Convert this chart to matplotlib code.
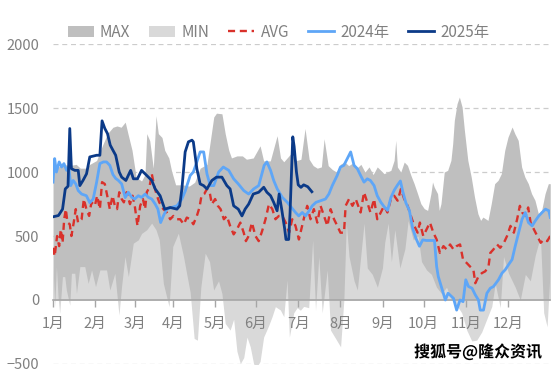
import matplotlib
matplotlib.use("Agg")
import matplotlib.pyplot as plt
import matplotlib.patheffects as pe
from matplotlib.patches import Patch
from matplotlib.lines import Line2D

plt.rcParams['font.family'] = ['Noto Sans CJK SC', 'DejaVu Sans']

# x values are day-of-year positions on the category axis
months = ['1月', '2月', '3月', '4月', '5月', '6月', '7月', '8月', '9月', '10月', '11月', '12月']
month_pos = [0, 31, 60, 88, 119, 149, 180, 211, 242, 272, 303, 334]

max_days = [0, 4, 8, 12, 17, 20, 24, 27, 32, 36, 40, 44, 47, 50, 53, 55, 58, 61, 65, 67.5, 68.8, 71, 73.6,
            75.6, 77.3, 80, 82, 85, 87, 90, 95, 100, 104, 108, 113, 118, 120, 124, 126.4, 129, 131, 135,
            139, 142, 147, 152, 154.6, 159.5, 164.5, 167, 169.4, 174.3, 179, 182, 185, 188, 191, 194, 197,
            199, 202, 205, 208, 211, 214, 217, 220, 223, 226, 229, 232, 235, 238, 240.6, 243, 245.5, 248,
            250.4, 251.6, 252.8, 255.3, 257.8, 260.2, 262.7, 265.1, 267.6, 270, 272.5, 275, 277.4, 278.6,
            279.8, 282.3, 283.5, 284.8, 287.2, 289.7, 292.1, 293.4, 294.6, 296.6, 298.3, 300.3, 302, 304.5,
            307, 309.4, 311.9, 313.9, 315.6, 319.3, 321.7, 324.2, 326.7, 329.1, 331.6, 334, 337, 339, 341.5,
            344, 346.4, 348.9, 351.3, 353.8, 356.3, 358.7, 361.2, 363.6, 365]
max_vals = [1050, 1040, 1060, 1050, 1060, 1030, 1030, 1060, 1090, 1200, 1300, 1350, 1360, 1350, 1390, 1300,
            1170, 960, 930, 980, 1300, 1245, 1030, 1440, 1300, 1270, 1170, 1110, 1010, 900, 900, 890, 920,
            1030, 1060, 1430, 1460, 1455, 1300, 1170, 1110, 1126, 1126, 1100, 1110, 1205, 1087, 1087, 1284,
            1110, 1080, 1140, 1090, 1100, 1340, 1100, 1050, 1030, 1040, 1260, 1050, 1020, 1000, 1060, 1080,
            1050, 1070, 1030, 1060, 1000, 1040, 980, 1040, 1013, 987, 1000, 1013, 1091, 1247, 1039, 1000,
            1078, 1052, 974, 909, 831, 753, 714, 700, 831, 922, 883, 831, 700, 753, 1000, 1013, 1091, 1221,
            1404, 1534, 1586, 1508, 1325, 1091, 961, 805, 674, 622, 648, 622, 753, 909, 935, 987, 1169, 1273,
            1352, 1300, 1247, 1039, 961, 909, 831, 779, 674, 700, 831, 909, 909]

min_days = [0, 1.25, 2.5, 3.7, 4.9, 6.9, 8.6, 9.8, 12.3, 13.5, 16, 17.2, 19.7, 23.3, 25.8, 28.3, 31.2, 34.4,
            39.3, 41.7, 45.4, 48.4, 50.3, 52.8, 55.3, 58.9, 62.6, 65, 68.8, 72.4, 75.6, 78, 81, 83.5, 85.2,
            87.9, 92, 95.8, 98.2, 100.7, 103.6, 106, 108.5, 111.7, 114.9, 117.9, 121.5, 124, 126.4, 130,
            132.6, 135, 137.5, 140, 142.4, 144.8, 147.3, 149.7, 152, 154.6, 158.3, 160.8, 163.2, 166.9,
            169.4, 171.8, 173.5, 176.7, 179.2, 181.6, 184, 187.7, 190.6, 192.7, 195.1, 197.6, 201.3, 203.7,
            207.4, 211.1, 213.5, 215.3, 217.3, 221, 223.4, 228.3, 230.7, 234.4, 238.1, 241.8, 243.5, 246,
            248.4, 250.9, 254.6, 258.3, 260.7, 264.4, 268, 270.5, 274.2, 277.8, 281.5, 285.2, 288.9, 292.6,
            296.3, 300, 303.7, 307.4, 311, 314.7, 318.4, 322.1, 324.6, 328.3, 330.7, 334.4, 339.3, 343,
            346.7, 350.4, 354, 357.8, 360.2, 362.7, 365]
min_vals = [261, -52, 261, 26, -105, 183, 183, 78, -40, 209, 209, 52, 261, 261, 130, 235, 105, 235, 235, 78,
            209, -118, 105, 340, 183, 444, 470, 520, 549, 601, 549, 470, 130, 20, -52, 418, 522, 340, 200,
            60, -300, -314, 100, 366, 300, 78, 150, 50, -183, -235, -150, -400, -497, -450, -290, -366,
            -500, -520, -480, -290, -200, -130, -52, -78, -130, 157, -290, -100, -60, -80, -50, -60, 470,
            -80, 340, -100, 235, -235, -300, -366, 0, 600, 340, 150, 78, 600, 250, 200, 100, 250, 450, 600,
            300, 550, 250, 400, 620, 470, 500, 300, 235, 200, 100, 50, 100, 0, -40, -100, -235, -320, -314,
            -250, -150, -50, 130, -60, 340, 209, 100, 0, 200, 150, 350, 496, -100, -209, 250]

avg_days = [0, 1.2, 3, 4.5, 5.7, 7, 8.2, 9.4, 10.6, 12.3, 13.5, 15.2, 16.7, 18.4, 21, 22.6, 24.5, 26.5, 28.2,
            30.7, 32.4, 34.4, 36, 38, 39.8, 41.7, 43.7, 45.4, 47, 48.6, 50.4, 52, 54, 56.5, 58.4, 60, 62, 64,
            66, 67.6, 68.8, 70.8, 72.5, 74.2, 76.3, 78, 81, 83.5, 86, 88.4, 91, 93.3, 96, 98.2, 100.7, 103,
            105.6, 107.5, 109, 111, 113, 115, 116.6, 119, 121, 123, 125.4, 127.6, 130, 132.6, 135, 137.5,
            140, 141.6, 143.6, 146, 148.6, 151, 153.5, 156, 158.5, 161, 163.3, 165.8, 168.3, 170.8, 173.3,
            175.6, 178, 180.5, 184, 186.6, 189, 191.5, 194, 196.4, 198.9, 201.4, 203.8, 206.3, 208.7, 211,
            213.6, 214.8, 217.3, 219.8, 222.2, 225.8, 228.3, 230.7, 233, 235.7, 238, 240.6, 243, 245.5, 248,
            250.4, 253, 255.4, 257.8, 260.3, 262.7, 265.2, 267.7, 269.3, 271.8, 274.2, 276.7, 279.2, 281.6,
            284, 286.6, 289, 291.5, 294, 296.3, 298.8, 301, 303.7, 306, 308.6, 310, 312.3, 314.8, 317.3,
            319.7, 321, 323.3, 326, 328.3, 331, 333.3, 335.8, 338.3, 340.7, 342.7, 344.4, 346.9, 348.8,
            350.6, 353, 355.5, 358, 360.4, 362.8, 365]
avg_vals = [408, 342, 500, 421, 552, 447, 631, 710, 605, 592, 500, 605, 710, 605, 631, 789, 710, 657, 763,
            736, 815, 710, 921, 907, 815, 710, 815, 736, 710, 842, 789, 763, 842, 749, 815, 736, 579, 736,
            789, 710, 842, 881, 986, 894, 815, 763, 710, 684, 631, 657, 631, 631, 592, 644, 631, 592, 657,
            723, 815, 828, 868, 842, 749, 789, 736, 710, 631, 657, 579, 513, 552, 605, 526, 460, 500, 605,
            500, 460, 539, 631, 749, 710, 631, 657, 657, 605, 526, 631, 579, 473, 631, 736, 631, 710, 605,
            736, 657, 579, 710, 631, 579, 526, 526, 736, 789, 736, 789, 684, 842, 763, 684, 789, 631, 684,
            736, 684, 789, 815, 776, 868, 789, 736, 657, 579, 526, 605, 500, 552, 605, 526, 473, 368, 421,
            395, 434, 395, 421, 434, 316, 289, 263, 237, 131, 184, 210, 224, 263, 368, 395, 434, 408, 447,
            500, 579, 526, 631, 736, 684, 657, 723, 605, 552, 500, 447, 473, 460, 500]

y2024_days = [0, 1.2, 2.5, 4.5, 6.3, 8, 10, 11.6, 13, 14.8, 16.7, 18.5, 21, 24.5, 27, 29.5, 32, 34.4, 37,
              39.3, 41.7, 44, 46, 48, 50.4, 53, 55.3, 57.8, 60, 62.6, 65, 67.6, 70, 72.5, 75, 77, 79, 81,
              83.5, 87, 91, 94.6, 97, 100.7, 103, 105.6, 108, 110.6, 113, 115.4, 118, 121.6, 125, 129,
              132.6, 136, 140, 143.6, 147.3, 151, 155, 157, 159.7, 162, 164.6, 168.3, 172, 175, 178, 180.4,
              183, 185.4, 188, 190.3, 193, 196.4, 200, 202.5, 205, 208.6, 211, 213.5, 216, 218.5, 221, 223.4,
              225.8, 228.3, 230.7, 233, 235.7, 238, 240.7, 243, 245.6, 248, 250.6, 253, 255, 256.7, 259,
              261.6, 264, 266.5, 269, 271.4, 274, 277, 280, 281.6, 282.8, 285, 288, 290, 294, 296.3, 298.8,
              301, 303, 305, 307.6, 310, 312.3, 313.6, 316, 318.5, 321, 323.3, 327, 329.6, 332, 334.4, 337,
              339.3, 341.8, 344.3, 346.7, 349, 351.7, 354, 356.6, 359, 361.5, 364, 365]
y2024_vals = [921, 1105, 1000, 1079, 1039, 1066, 1013, 1039, 894, 934, 907, 855, 828, 815, 760, 790, 920,
              1066, 1079, 1079, 1052, 980, 950, 934, 907, 800, 842, 802, 789, 815, 802, 828, 802, 789, 750,
              710, 605, 657, 710, 723, 736, 789, 850, 973, 1000, 1079, 1157, 1157, 986, 894, 894, 1000, 1039,
              1013, 947, 907, 855, 828, 868, 894, 1052, 1079, 1013, 934, 868, 802, 763, 723, 684, 657, 684,
              657, 697, 736, 763, 776, 789, 828, 894, 973, 1039, 1052, 1105, 1157, 1052, 1026, 973, 921, 947,
              934, 894, 815, 763, 730, 700, 800, 860, 900, 930, 850, 760, 700, 560, 480, 420, 470, 465, 465,
              465, 263, 184, 105, 0, 53, 13, -79, 0, -13, 158, 105, 92, 40, 0, -79, -79, 53, 92, 105, 158,
              210, 237, 276, 316, 421, 526, 631, 684, 605, 579, 618, 657, 684, 710, 697, 645]

y2025_days = [0, 4, 7, 9, 11, 12.3, 13.5, 16, 18.5, 19.7, 22, 24.6, 27, 32, 34.4, 36, 38, 40, 42, 44, 46,
              48.6, 50.4, 53.5, 57, 59, 62, 65, 68.8, 72.5, 75, 78.6, 82, 86, 91, 93, 94.6, 97, 99.4, 102,
              103, 105.6, 108, 110.5, 113, 116.6, 120, 124, 127.6, 130, 132.6, 136, 138.7, 141, 143.6, 147,
              151, 154.7, 157, 159.7, 162, 164.5, 166, 168, 170, 171, 173, 174, 176, 177, 178.7, 180, 182,
              184, 187, 190]
y2025_vals = [650, 660, 710, 868, 889, 1340, 1026, 1013, 1013, 894, 934, 986, 1118, 1131, 1131, 1400, 1341,
              1300, 1210, 1170, 1131, 1000, 960, 934, 1013, 947, 947, 1013, 973, 934, 868, 815, 710, 723, 710,
              736, 868, 1157, 1236, 1249, 1236, 1026, 907, 894, 868, 934, 960, 960, 894, 868, 736, 710, 657,
              710, 749, 828, 842, 881, 842, 815, 763, 697, 828, 700, 560, 473, 473, 680, 1275, 1200, 1000, 900,
              880, 900, 885, 846]

fig = plt.figure(figsize=(5.54, 3.69), dpi=100)
ax = fig.add_axes([0.0957, 0.0136, 0.8975, 0.867])
ax.set_axisbelow(False)

ax.fill_between(max_days, 0, max_vals, color='#bfbfbf', lw=0, zorder=1)
ax.fill_between(min_days, 0, min_vals, color='#d9d9d9', lw=0, zorder=1.1)
ax.plot(avg_days, avg_vals, color='#d9312b', lw=1.7, ls=(0, (3, 2)), zorder=3)
ax.plot(y2024_days, y2024_vals, color='#5ea6f7', lw=2.0, zorder=4)
ax.plot(y2025_days, y2025_vals, color='#0b3a88', lw=2.0, zorder=5)

ax.set_xlim(0, 365)
ax.set_ylim(-500, 2000)
ax.set_yticks([-500, 0, 500, 1000, 1500, 2000])
ax.set_xticks(month_pos)
ax.set_xticklabels(months)

for v in [-500, 500, 1000, 1500, 2000]:
    ax.axhline(v, color='#cccccc', lw=0.9, ls=(0, (4, 3)), zorder=0)

for s in ['top', 'right', 'left']:
    ax.spines[s].set_visible(False)
ax.spines['bottom'].set_position(('data', 0))
ax.spines['bottom'].set_color('#a6a6a6')
ax.spines['bottom'].set_linewidth(1.2)
ax.spines['bottom'].set_zorder(2.6)

ax.tick_params(axis='x', colors='#a6a6a6', length=5, width=1, labelsize=10.5, labelcolor='#808080', pad=7)
ax.tick_params(axis='y', length=0, labelsize=10.5, labelcolor='#808080', pad=10)

handles = [
    Patch(facecolor='#bfbfbf', edgecolor='none', label='MAX'),
    Patch(facecolor='#d9d9d9', edgecolor='none', label='MIN'),
    Line2D([], [], color='#d9312b', lw=1.7, ls=(0, (3, 2)), label='AVG'),
    Line2D([], [], color='#5ea6f7', lw=2.0, label='2024年'),
    Line2D([], [], color='#0b3a88', lw=2.0, label='2025年'),
]
leg = fig.legend(handles=handles, loc='center', bbox_to_anchor=(0.503, 0.913), ncol=5, frameon=False,
                 fontsize=11, handlelength=1.7, handletextpad=0.4, columnspacing=1.25)
for t in leg.get_texts():
    t.set_color('#808080')

fig.text(0.863, 0.046, '搜狐号@隆众资讯', ha='center', va='center', fontsize=11.5, fontweight='bold',
         color='black', path_effects=[pe.withStroke(linewidth=2.5, foreground='white')])

fig.savefig('out.png', dpi=100)
